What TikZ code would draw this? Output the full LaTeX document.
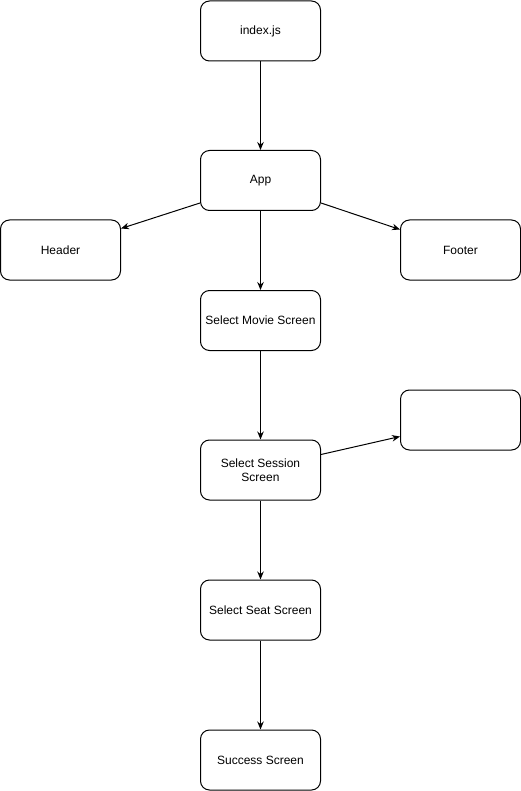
\documentclass[tikz,border=0pt]{standalone}
\usepackage{fontspec}
\setmainfont{Liberation Sans}
\usetikzlibrary{arrows.meta}

\tikzset{every picture/.style={line width=1pt}}
\tikzset{
  compbox/.style={draw, rounded corners=9pt, minimum width=120pt, minimum height=60pt,
    align=center, inner sep=2pt, font=\fontsize{12}{14}\selectfont},
  flow/.style={-{Stealth[length=8pt,width=6.5pt]}}
}

\begin{document}
\begin{tikzpicture}[x=1pt,y=1pt,yscale=-1,xscale=1]
            \useasboundingbox (0,0) rectangle (521,791);

            % Boxes
            \node [compbox] (index) at (260.5,31) {index.js};
            \node [compbox] (app) at (260.5,180.5) {App};
            \node [compbox] (header) at (60.5,250) {Header};
            \node [compbox] (footer) at (460.5,250) {Footer};
            \node [compbox] (movie) at (260.5,320.5) {Select Movie Screen};
            \node [compbox] (blank) at (460.5,420) {};
            \node [compbox] (session) at (260.5,470) {Select Session\\Screen};
            \node [compbox] (seat) at (260.5,610) {Select Seat Screen};
            \node [compbox] (success) at (260.5,760) {Success Screen};

            % Arrows (yshift is flipped by yscale=-1)
            \draw [flow] (index) -- (app);
            \draw [flow] ([yshift=-8pt]app.south west) -- ([yshift=9pt]header.north east);
            \draw [flow] ([yshift=-8pt]app.south east) -- ([yshift=10pt]footer.north west);
            \draw [flow] (app) -- (movie);
            \draw [flow] (movie) -- (session);
            \draw [flow] ([yshift=15pt]session.north east) -- ([yshift=-14pt]blank.south west);
            \draw [flow] (session) -- (seat);
            \draw [flow] (seat) -- (success);

\end{tikzpicture}
\end{document}
